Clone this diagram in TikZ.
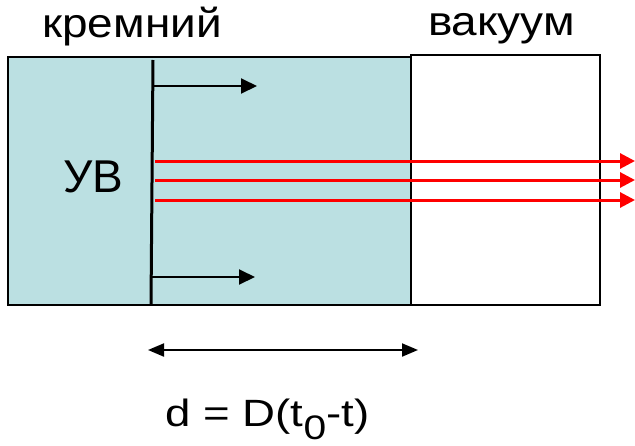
\documentclass[tikz,border=0pt]{standalone}
\usepackage{fontspec}
\usepackage{graphicx}
\setmainfont{Liberation Sans}
\usetikzlibrary{arrows.meta}
\definecolor{si}{RGB}{187,224,226}
\definecolor{rayred}{RGB}{255,0,0}
\begin{document}
\begin{tikzpicture}[x=1pt,y=-1pt,
  lbl/.style={inner sep=0pt,anchor=base,font=\fontsize{41}{48}\selectfont},
  boxst/.style={draw=black,line width=2pt},
  blk/.style={line width=2pt,-{Triangle[length=16pt,width=15pt]}},
  ray/.style={draw=rayred,line width=3pt,-{Triangle[length=15pt,width=15pt]}},
  dim/.style={line width=2pt,{Triangle[length=16pt,width=13pt]}-{Triangle[length=16pt,width=13pt]}}]
\useasboundingbox (0,0) rectangle (635,445);
% boxes
\path[boxst,fill=si] (8,57) rectangle (411,305);
\node[inner sep=0pt,minimum width=403pt,minimum height=248pt] (si) at (209.5,181) {};
\path[boxst,fill=white] (411,55) rectangle (600,305);
\node[inner sep=0pt,minimum width=189pt,minimum height=250pt] (vac) at (505.5,180) {};
% front line
\coordinate (ftop) at (153,60);
\coordinate (fbot) at (151,305);
\draw[line width=3pt] (ftop) -- (fbot);
% black arrows
\coordinate (a1s) at (152,86);  \coordinate (a1e) at (257,86);
\coordinate (a2s) at (151,277); \coordinate (a2e) at (255,277);
\draw[blk] (a1s) -- (a1e);
\draw[blk] (a2s) -- (a2e);
% red rays
\foreach \i/\y in {1/161,2/180,3/200}{
  \coordinate (r\i s) at (155,\y);
  \coordinate (r\i e) at (635,\y);
  \draw[ray] (r\i s) -- (r\i e);
}
% dimension arrow
\coordinate (ds) at (148,350);
\coordinate (de) at (418,350);
\draw[dim] (ds) -- (de);
% labels
\node[lbl] (silbl) at (132,37) {\scalebox{1.12}[1]{кремний}};
\node[lbl] (vaclbl) at (501.5,35) {\scalebox{1.12}[1]{вакуум}};
\node[lbl,font=\fontsize{46}{52}\selectfont] (uv) at (93,192) {УВ};
\node[lbl,font=\fontsize{38}{44}\selectfont] (form) at (267.5,426) {\scalebox{1.2}[1]{d = D(t\raisebox{-13pt}{\fontsize{34}{40}\selectfont 0}-t)}};
\end{tikzpicture}
\end{document}
